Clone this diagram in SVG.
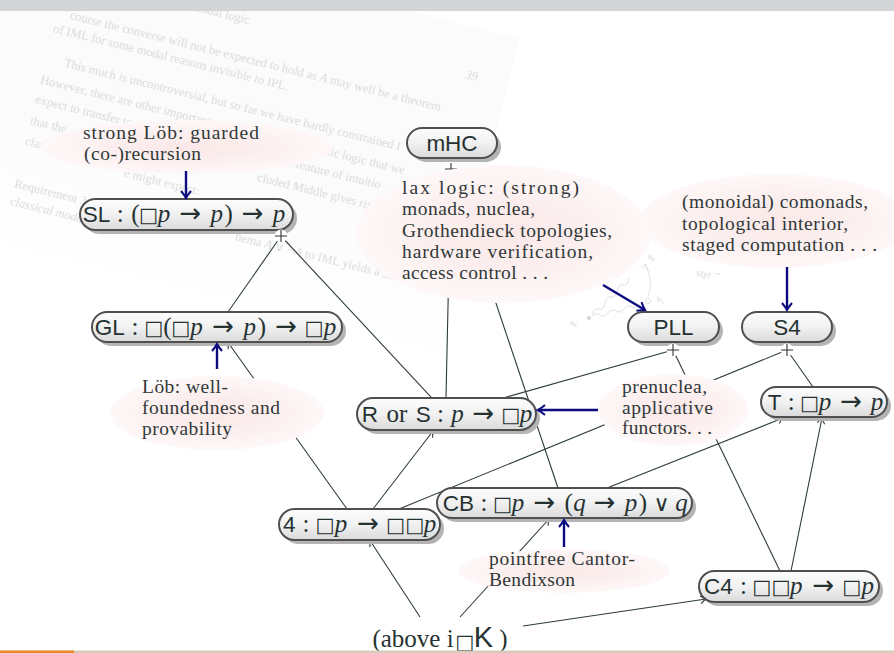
<svg xmlns="http://www.w3.org/2000/svg" width="894" height="653" viewBox="0 0 894 653">
<defs>
<style>
.wm{font-family:"Liberation Serif",serif;font-size:12.5px;fill:#dcdcdc}
.wmd{font-family:"Liberation Serif",serif;font-size:8px;fill:#d6d6d6}
.lbl{font-family:"Liberation Serif","DejaVu Serif",serif;font-size:19.5px;fill:#303838}
.nt{font-family:"Liberation Sans",sans-serif;font-size:22.5px;fill:#263232}
.sf{font-family:"Liberation Sans",sans-serif}
.mi{font-family:"Liberation Serif","DejaVu Serif",serif;font-style:italic;font-size:25px}
.mr{font-family:"Liberation Serif","DejaVu Serif",serif;font-size:25px}
.bx{font-family:"DejaVu Sans",sans-serif;font-size:20.5px}
.to{font-family:"DejaVu Sans",sans-serif;font-size:26px}
.vee{font-family:"DejaVu Sans",sans-serif;font-size:22px}
.pill{fill:url(#pg);stroke:#4f4f4f;stroke-width:2}
.sh{fill:#b4b4b4}
.cn{fill:none;stroke:#2e3c3c;stroke-width:1.1}
.ar{marker-end:url(#ah)}
.bl{fill:none;stroke:#0b0b7e;stroke-width:2.4;marker-end:url(#bh)}
.el{fill:url(#pk)}
.pl{stroke:#333;stroke-width:1.1}
.jd{fill:#fff}
</style>
<linearGradient id="pg" x1="0" y1="0" x2="0" y2="1">
<stop offset="0" stop-color="#fdfdfd"/>
<stop offset="0.5" stop-color="#f1f1f1"/>
<stop offset="1" stop-color="#dadada"/>
</linearGradient>
<radialGradient id="pk" cx="0.5" cy="0.5" r="0.5">
<stop offset="0" stop-color="#fbe8e8"/>
<stop offset="0.55" stop-color="#fcefef"/>
<stop offset="1" stop-color="#fef8f8"/>
</radialGradient>
<linearGradient id="pageg" gradientUnits="userSpaceOnUse" x1="0" y1="100" x2="0" y2="250">
<stop offset="0" stop-color="#fbfbfb"/>
<stop offset="1" stop-color="#ffffff"/>
</linearGradient>
<marker id="ah" viewBox="-8 -6 10 12" markerWidth="10" markerHeight="12" refX="0" refY="0" orient="auto" markerUnits="userSpaceOnUse">
<path d="M-5.5,-3.8 Q-2,-0.9 0,0 Q-2,0.9 -5.5,3.8" fill="none" stroke="#2e3c3c" stroke-width="1.1"/>
</marker>
<marker id="bh" viewBox="-10 -8 12 16" markerWidth="12" markerHeight="16" refX="0" refY="0" orient="auto" markerUnits="userSpaceOnUse">
<path d="M-7,-5 Q-2.5,-1.2 0,0 Q-2.5,1.2 -7,5" fill="none" stroke="#0b0b7e" stroke-width="2"/>
</marker>
</defs>

<rect x="0" y="0" width="894" height="653" fill="#ffffff"/>

<!-- faint background page -->
<g id="background-page" transform="translate(75,20) rotate(14)">
<rect x="-120" y="-90" width="556" height="350" fill="url(#pageg)"/>
<g class="wm">
<text x="110" y="-38">modal logic</text>
<text x="392" y="-38" font-style="italic">39</text>
<text x="-6" y="0">course the converse will not be expected to hold as <tspan font-style="italic">A</tspan> may well be a theorem</text>
<text x="-19" y="17">of IML for some modal reasons invisible to IPL.</text>
<text x="0" y="48">This much is uncontroversial, but so far we have hardly constrained I</text>
<text x="-19" y="70">However, there are other important</text>
<text x="268" y="70">istic logic that we</text>
<text x="-19" y="90">expect to transfer to</text>
<text x="237" y="90">al feature of intuitio</text>
<text x="-19" y="112">that the</text>
<text x="215" y="112">cluded Middle gives rise to the</text>
<text x="-19" y="133">clas</text>
<text x="85" y="140">e might expect:</text>
<text x="-19" y="177">Requirement 3.</text>
<text x="208" y="175">hema <tspan font-style="italic">A</tspan> ∨ ¬<tspan font-style="italic">A</tspan> to IML yields a standa</text>
<text x="-19" y="195" font-style="italic">classical moda</text>
</g>
</g>
<g id="background-figure" fill="none" stroke="#d8d8d8" stroke-width="0.8">
<circle cx="589" cy="318" r="2" fill="#d4d4d4" stroke="none"/>
<path d="M592,316 q4,-4 8,-1 t8,-2 t8,-2 t8,-2 t8,-2 t8,-3"/>
<path d="M592,314 q2,-6 7,-5 t6,-6 t6,-6 t6,-6 t6,-6 t6,-7"/>
<circle cx="648" cy="301" r="2.5" fill="#fff"/>
<path d="M648,297 Q654,280 645,264"/>
<path d="M642,268 L645,264 L647,269"/>
<text class="wmd" x="570" y="325" stroke="none">a<tspan font-size="6" dy="2">0</tspan></text>
<text class="wmd" x="657" y="302" stroke="none">b<tspan font-size="6" dy="2">1</tspan></text>
<text class="wmd" x="648" y="259" stroke="none">a<tspan font-size="6" dy="2">0</tspan></text>
<text class="wmd" x="696" y="277" stroke="none" font-style="italic" font-size="10">V(p) :=</text>
</g>

<!-- connectors -->
<g id="connectors">
<line class="cn" x1="281" y1="236" x2="228" y2="312"/>
<line class="cn" x1="281" y1="236" x2="432" y2="398"/>
<line class="cn" x1="451" y1="169" x2="446" y2="398"/>
<line class="cn" x1="451" y1="169" x2="558" y2="488"/>
<line class="cn" x1="673" y1="350" x2="503" y2="398"/>
<line class="cn" x1="673" y1="350" x2="780" y2="571"/>
<line class="cn" x1="787" y1="350" x2="813" y2="387"/>
<line class="cn" x1="787" y1="350" x2="399" y2="509"/>
<line class="cn ar" x1="373" y1="509" x2="433" y2="431"/>
<line class="cn ar" x1="347" y1="509" x2="228" y2="342.5"/>
<line class="cn ar" x1="607" y1="488" x2="783" y2="418"/>
<line class="cn ar" x1="791" y1="571" x2="822" y2="418"/>
<line class="cn ar" x1="420" y1="617" x2="370" y2="540.5"/>
<line class="cn ar" x1="460" y1="617" x2="549" y2="519"/>
<line class="cn ar" x1="523" y1="626" x2="706" y2="599"/>
</g>

<!-- nodes -->
<g id="SL"><rect class="sh" x="84" y="203" width="213" height="31" rx="15.5"/><rect class="pill" x="80" y="199" width="213" height="31" rx="15.5"/>
<text class="nt" y="222" text-anchor="middle"><tspan x="96.5">SL</tspan><tspan class="mr" x="120.2">:</tspan><tspan class="mr" x="135.3">(</tspan><tspan class="bx" x="148.6">□</tspan><tspan class="mi" x="164.1">p</tspan><tspan class="to" x="190.4">→</tspan><tspan class="mi" x="216.7">p</tspan><tspan class="mr" x="228.6">)</tspan><tspan class="to" x="252.7">→</tspan><tspan class="mi" x="279">p</tspan></text></g>
<g id="GL"><rect class="sh" x="96" y="316" width="250" height="30" rx="15"/><rect class="pill" x="92" y="312" width="250" height="30" rx="15"/>
<text class="nt" y="334.5" text-anchor="middle"><tspan x="109.8">GL</tspan><tspan class="mr" x="135">:</tspan><tspan class="bx" x="153.9">□</tspan><tspan class="mr" x="167.4">(</tspan><tspan class="bx" x="180.9">□</tspan><tspan class="mi" x="196.6">p</tspan><tspan class="to" x="223.2">→</tspan><tspan class="mi" x="249.8">p</tspan><tspan class="mr" x="261.8">)</tspan><tspan class="to" x="286.2">→</tspan><tspan class="bx" x="314.3">□</tspan><tspan class="mi" x="330">p</tspan></text></g>
<g id="mHC"><rect class="sh" x="411" y="132" width="90" height="30" rx="15"/><rect class="pill" x="407" y="128" width="90" height="30" rx="15"/><text class="nt" x="452" y="150.5" text-anchor="middle">mHC</text></g>
<g id="PLL"><rect class="sh" x="632" y="316" width="91" height="30" rx="15"/><rect class="pill" x="628" y="312" width="91" height="30" rx="15"/><text class="nt" x="673.5" y="334.5" text-anchor="middle">PLL</text></g>
<g id="S4"><rect class="sh" x="746" y="316" width="90" height="30" rx="15"/><rect class="pill" x="742" y="312" width="90" height="30" rx="15"/><text class="nt" x="787" y="334.5" text-anchor="middle">S4</text></g>
<g id="T"><rect class="sh" x="765" y="391" width="126" height="30" rx="15"/><rect class="pill" x="761" y="387" width="126" height="30" rx="15"/>
<text class="nt" y="409.5" text-anchor="middle"><tspan x="774.6">T</tspan><tspan class="mr" x="791.3">:</tspan><tspan class="bx" x="809.8">□</tspan><tspan class="mi" x="825.1">p</tspan><tspan class="to" x="851.1">→</tspan><tspan class="mi" x="877">p</tspan></text></g>
<g id="RorS"><rect class="sh" x="361" y="402" width="179" height="32" rx="16"/><rect class="pill" x="357" y="398" width="179" height="32" rx="16"/>
<text class="nt" y="421.5" text-anchor="middle"><tspan x="369.8">R</tspan><tspan class="mr" x="396.8">or</tspan><tspan x="423.2">S</tspan><tspan class="mr" x="440.6">:</tspan><tspan class="mi" x="457.6">p</tspan><tspan class="to" x="483.5">→</tspan><tspan class="bx" x="510.9">□</tspan><tspan class="mi" x="526.1">p</tspan></text></g>
<g id="Four"><rect class="sh" x="283" y="513" width="161" height="31" rx="15.5"/><rect class="pill" x="279" y="509" width="161" height="31" rx="15.5"/>
<text class="nt" y="532" text-anchor="middle"><tspan x="289.3">4</tspan><tspan class="mr" x="306">:</tspan><tspan class="bx" x="325.2">□</tspan><tspan class="mi" x="341.1">p</tspan><tspan class="to" x="368.1">→</tspan><tspan class="bx" x="405.3">□□</tspan><tspan class="mi" x="429.9">p</tspan></text></g>
<g id="CB"><rect class="sh" x="441" y="492" width="255" height="30" rx="15"/><rect class="pill" x="437" y="488" width="255" height="30" rx="15"/>
<text class="nt" y="510.5" text-anchor="middle"><tspan x="458.3">CB</tspan><tspan class="mr" x="483.9">:</tspan><tspan class="bx" x="502.6">□</tspan><tspan class="mi" x="518.1">p</tspan><tspan class="to" x="544.4">→</tspan><tspan class="mr" x="568.6">(</tspan><tspan class="mi" x="579.4">q</tspan><tspan class="to" x="604.7">→</tspan><tspan class="mi" x="631">p</tspan><tspan class="mr" x="642.9">)</tspan><tspan class="vee" x="661.6">∨</tspan><tspan class="mi" x="681.5">q</tspan></text></g>
<g id="C4"><rect class="sh" x="703" y="575" width="180" height="31" rx="15.5"/><rect class="pill" x="699" y="571" width="180" height="31" rx="15.5"/>
<text class="nt" y="594" text-anchor="middle"><tspan x="718.5">C4</tspan><tspan class="mr" x="743.5">:</tspan><tspan class="bx" x="771.5">□□</tspan><tspan class="mi" x="796.2">p</tspan><tspan class="to" x="823.3">→</tspan><tspan class="bx" x="851.9">□</tspan><tspan class="mi" x="867.8">p</tspan></text></g>
<g id="above"><text class="nt" y="647" text-anchor="middle"><tspan class="mr" font-size="29px" x="413">(above i</tspan><tspan class="bx" font-size="10px" x="465" y="649">□</tspan><tspan x="483.5" font-size="29px" y="647">K</tspan><tspan class="mr" font-size="29px" x="503.5">)</tspan></text></g>

<!-- junction markers -->
<g id="junctions">
<g><circle class="jd" cx="281" cy="236" r="6.5"/><path class="pl" d="M275,236 H287 M281,230 V242"/></g>
<g><circle class="jd" cx="451" cy="169" r="6.5"/><path class="pl" d="M445,169 H457 M451,163 V175"/></g>
<g><circle class="jd" cx="673" cy="350" r="6.5"/><path class="pl" d="M667,350 H679 M673,344 V356"/></g>
<g><circle class="jd" cx="787" cy="350" r="6.5"/><path class="pl" d="M781,350 H793 M787,344 V356"/></g>
</g>

<!-- annotation labels -->
<g id="label-strong-lob"><ellipse class="el" cx="186" cy="147" rx="146" ry="27"/>
<text class="lbl" x="83" y="139" textLength="176">strong Löb: guarded</text>
<text class="lbl" x="84" y="160" textLength="117">(co-)recursion</text></g>
<g id="label-lax"><ellipse class="el" cx="503" cy="234" rx="147" ry="69"/>
<text class="lbl" x="402" y="194" textLength="177">lax logic: (strong)</text>
<text class="lbl" x="402" y="215.3" textLength="133">monads, nuclea,</text>
<text class="lbl" x="402" y="236.6" textLength="210">Grothendieck topologies,</text>
<text class="lbl" x="402" y="258" textLength="191">hardware verification,</text>
<text class="lbl" x="402" y="279.3" textLength="146">access control . . .</text></g>
<g id="label-comonads"><ellipse class="el" cx="776" cy="221" rx="136" ry="47"/>
<text class="lbl" x="682" y="208.3" textLength="186">(monoidal) comonads,</text>
<text class="lbl" x="682" y="229.5" textLength="166">topological interior,</text>
<text class="lbl" x="682" y="250.7" textLength="195">staged computation . . .</text></g>
<g id="label-lob"><ellipse class="el" cx="217" cy="413" rx="107" ry="37"/>
<text class="lbl" x="142" y="393.3" textLength="86">Löb: well-</text>
<text class="lbl" x="142" y="414.3" textLength="138">foundedness and</text>
<text class="lbl" x="142" y="435.3" textLength="90">provability</text></g>
<g id="label-prenuclea"><ellipse class="el" cx="673" cy="410" rx="75" ry="36"/>
<text class="lbl" x="622" y="392.7" textLength="85">prenuclea,</text>
<text class="lbl" x="622" y="413.5" textLength="91">applicative</text>
<text class="lbl" x="622" y="434.3" textLength="90">functors. . .</text></g>
<g id="label-pointfree"><ellipse class="el" cx="564" cy="571" rx="106" ry="22"/>
<text class="lbl" x="489" y="565" textLength="146">pointfree Cantor-</text>
<text class="lbl" x="489" y="585.7" textLength="86">Bendixson</text></g>

<!-- annotation arrows -->
<g id="annotation-arrows">
<line class="bl" x1="186" y1="171" x2="186" y2="198"/>
<line class="bl" x1="217" y1="369" x2="217" y2="344"/>
<line class="bl" x1="603" y1="285" x2="645" y2="310"/>
<line class="bl" x1="787" y1="267" x2="787" y2="310"/>
<line class="bl" x1="598" y1="410" x2="538" y2="410"/>
<line class="bl" x1="564" y1="547" x2="564" y2="520"/>
</g>

<!-- frame bars -->
<rect x="0" y="0" width="894" height="11" fill="#d3d6d9"/>
<rect x="0" y="650.5" width="894" height="2.5" fill="#d7cbbb"/>
<rect x="0" y="650.5" width="74" height="2.5" fill="#e8892b"/>
</svg>
